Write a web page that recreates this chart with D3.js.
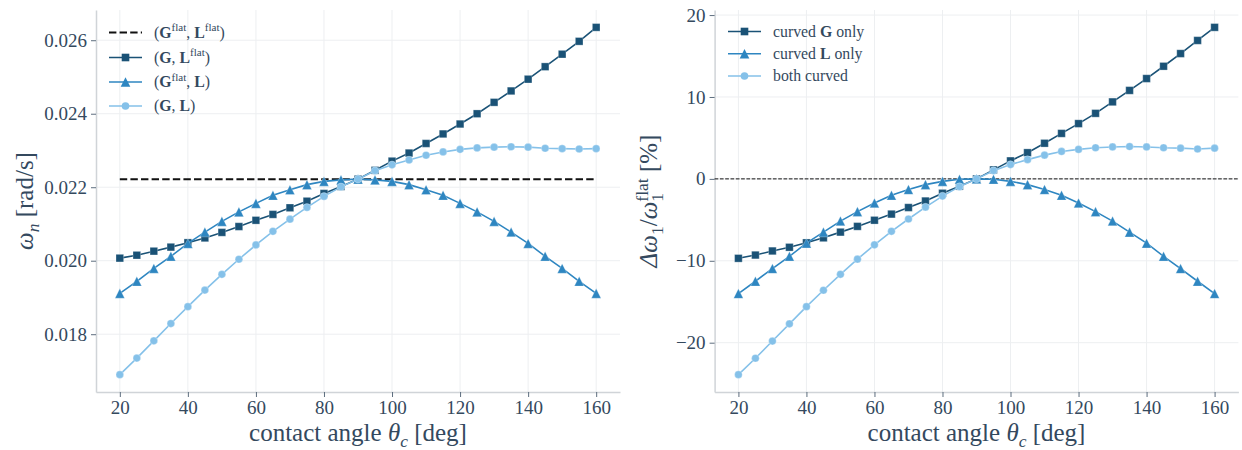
<!DOCTYPE html>
<html lang="en">
<head>
<meta charset="UTF-8">
<title>Natural frequency vs contact angle</title>
<script src="https://d3js.org/d3.v7.min.js"></script>
<style>
  body { margin: 0; background: #fff; }
  svg text { fill: #34495e; }
  .grid line { stroke: #edeff1; stroke-width: 1; }
  .axis path { stroke: #d0d4d8; stroke-width: 1.5; }
  .axis line { stroke: #5d6d7e; stroke-width: 1; }
</style>
</head>
<body>
<svg width="1242" height="450"></svg>
<script>
// contact angles (deg)
const angles = [20,25,30,35,40,45,50,55,60,65,70,75,80,85,90,95,100,105,110,115,120,125,130,135,140,145,150,155,160];

// left panel: omega_n [rad/s]
const flatAngles = [20, 160];
const omegaFlat = [0.02222, 0.02222];
const omegaG  = [0.02007,0.02015,0.02026,0.02037,0.02049,0.02062,0.02077,0.02093,0.02110,0.02126,0.02144,0.02162,0.02183,0.02202,0.02222,0.02246,0.02271,0.02293,0.02319,0.02345,0.02372,0.02400,0.02431,0.02462,0.02494,0.02528,0.02562,0.02597,0.02635];
const omegaL  = [0.01911,0.01944,0.01979,0.02012,0.02047,0.02078,0.02107,0.02133,0.02156,0.02178,0.02193,0.02207,0.02216,0.02220,0.02222,0.02220,0.02216,0.02207,0.02193,0.02178,0.02156,0.02133,0.02107,0.02078,0.02047,0.02012,0.01979,0.01944,0.01911];
const omegaGL = [0.01690,0.01735,0.01782,0.01829,0.01875,0.01920,0.01963,0.02004,0.02043,0.02080,0.02113,0.02145,0.02175,0.02201,0.02222,0.02245,0.02261,0.02274,0.02287,0.02296,0.02303,0.02307,0.02309,0.02310,0.02309,0.02306,0.02305,0.02304,0.02305];

// right panel: relative change [%]
const pctG  = [-9.7,-9.3,-8.8,-8.35,-7.8,-7.2,-6.5,-5.8,-5.05,-4.3,-3.5,-2.7,-1.75,-0.9,0,1.1,2.2,3.2,4.35,5.55,6.75,8.0,9.4,10.8,12.25,13.75,15.3,16.9,18.5];
const pctL  = [-14.0,-12.5,-10.95,-9.45,-7.85,-6.5,-5.15,-4.0,-2.95,-2.0,-1.3,-0.7,-0.3,-0.05,0,-0.05,-0.3,-0.7,-1.3,-2.0,-2.95,-4.0,-5.15,-6.5,-7.85,-9.45,-10.95,-12.5,-14.0];
const pctGL = [-23.9,-21.9,-19.8,-17.7,-15.6,-13.6,-11.65,-9.8,-8.05,-6.4,-4.9,-3.45,-2.1,-0.95,0,1.0,1.75,2.35,2.9,3.35,3.6,3.8,3.9,3.95,3.9,3.8,3.75,3.65,3.75];

// ticks
const xTicks = [20,40,60,80,100,120,140,160];
const leftYTicks = [0.018,0.020,0.022,0.024,0.026];
const rightYTicks = [-20,-10,0,10,20];

const cDark = "#1a5276", cMid = "#2e86c1", cLight = "#85c1e9";
const serif = '"Liberation Serif", "Times New Roman", serif';
const plotTop = 10, plotBottom = 392;

const svg = d3.select("svg");

// matplotlib-ish 5% padding
function padded(arrs) {
    const all = arrs.flat();
    const [lo, hi] = d3.extent(all);
    const p = (hi - lo) * 0.05;
    return [lo - p, hi + p];
}

function markerPath(kind) {
    if (kind === "square") return d3.symbol(d3.symbolSquare, 58)();
    if (kind === "circle") return d3.symbol(d3.symbolCircle, 46)();
    // upright triangle centred on its bbox like matplotlib '^'
    const s = 4.8;
    return `M0,${-s}L${s},${s}L${-s},${s}Z`;
}

function drawPanel(x0, x1, yDomain, yTicks, yFmt) {
    const x = d3.scaleLinear().domain(padded([angles])).range([x0, x1]);
    const y = d3.scaleLinear().domain(yDomain).range([plotBottom, plotTop]);
    const g = svg.append("g");

    const grid = g.append("g").attr("class", "grid");
    grid.selectAll(".gx").data(xTicks).join("line")
        .attr("x1", d => x(d)).attr("x2", d => x(d))
        .attr("y1", plotTop).attr("y2", plotBottom);
    grid.selectAll(".gy").data(yTicks).join("line")
        .attr("x1", x0).attr("x2", x1)
        .attr("y1", d => y(d)).attr("y2", d => y(d));

    const ax = g.append("g").attr("class", "axis")
        .attr("transform", `translate(0,${plotBottom})`)
        .call(d3.axisBottom(x).tickValues(xTicks).tickSizeInner(5).tickSizeOuter(0).tickPadding(4));
    const ay = g.append("g").attr("class", "axis")
        .attr("transform", `translate(${x0},0)`)
        .call(d3.axisLeft(y).tickValues(yTicks).tickFormat(yFmt).tickSizeInner(5).tickSizeOuter(0).tickPadding(4));
    [ax, ay].forEach(a => a.attr("font-family", null).attr("font-size", null)
        .selectAll("text").style("font-family", serif).style("font-size", "19px").style("fill", "#34495e"));

    return {g, x, y};
}

function drawSeries(p, xs, ys, color, kind, width, dash) {
    const line = d3.line().x((d, i) => p.x(xs[i])).y(d => p.y(d));
    p.g.append("path").datum(ys)
        .attr("d", line).attr("fill", "none")
        .attr("stroke", color).attr("stroke-width", width)
        .attr("stroke-dasharray", dash || null);
    if (!kind) return;
    p.g.append("g").selectAll("path").data(ys).join("path")
        .attr("d", markerPath(kind))
        .attr("transform", (d, i) => `translate(${p.x(xs[i])},${p.y(d)})`)
        .attr("fill", color)
        .attr("stroke", "#ffffff").attr("stroke-opacity", 0.35).attr("stroke-width", 0.8);
}

// rich text helper: parts = [{t, bold, italic, sub, sup, dx}]
function richText(sel, parts, size) {
    sel.style("font-family", serif).style("font-size", size + "px");
    let shift = 0;
    parts.forEach(pt => {
        const ts = sel.append("tspan").text(pt.t);
        let target = 0;
        if (pt.sub) target = size * 0.22;
        if (pt.sup) target = -size * 0.38;
        if (target !== shift) { ts.attr("dy", target - shift); shift = target; }
        if (pt.sub || pt.sup) ts.style("font-size", (size * 0.7) + "px");
        if (pt.bold) ts.attr("font-weight", "bold");
        if (pt.italic) ts.attr("font-style", "italic");
        if (pt.dx) ts.attr("dx", pt.dx);
    });
}

function legend(g, x0, rows) {
    const lg = g.append("g").attr("class", "legend");
    rows.forEach(r => {
        lg.append("line")
            .attr("x1", x0).attr("x2", x0 + 33).attr("y1", r.y).attr("y2", r.y)
            .attr("stroke", r.color).attr("stroke-width", r.width)
            .attr("stroke-dasharray", r.dash || null);
        if (r.kind) {
            lg.append("path").attr("d", markerPath(r.kind))
                .attr("transform", `translate(${x0 + 16.5},${r.y})`)
                .attr("fill", r.color);
        }
        const t = lg.append("text").attr("x", x0 + 45).attr("y", r.y + 5);
        richText(t, r.label, 15.8);
    });
}

// ---------- left panel ----------
const L = drawPanel(96, 620, padded([omegaG, omegaL, omegaGL]), leftYTicks, d3.format(".3f"));
drawSeries(L, flatAngles, omegaFlat, "#111", null, 2, "7.4,3.2");
drawSeries(L, angles, omegaG, cDark, "square", 1.6);
drawSeries(L, angles, omegaL, cMid, "triangle", 1.6);
drawSeries(L, angles, omegaGL, cLight, "circle", 1.6);

legend(L.g, 109, [
    {y: 32.5, color: "#111", width: 2, dash: "7.4,3.2",
     label: [{t: "("}, {t: "G", bold: true}, {t: "flat", sup: true}, {t: ", "}, {t: "L", bold: true}, {t: "flat", sup: true}, {t: ")"}]},
    {y: 57.5, color: cDark, width: 1.6, kind: "square",
     label: [{t: "("}, {t: "G", bold: true}, {t: ", "}, {t: "L", bold: true}, {t: "flat", sup: true}, {t: ")"}]},
    {y: 82, color: cMid, width: 1.6, kind: "triangle",
     label: [{t: "("}, {t: "G", bold: true}, {t: "flat", sup: true}, {t: ", "}, {t: "L", bold: true}, {t: ")"}]},
    {y: 106, color: cLight, width: 1.6, kind: "circle",
     label: [{t: "("}, {t: "G", bold: true}, {t: ", "}, {t: "L", bold: true}, {t: ")"}]}
]);

// ---------- right panel ----------
const R = drawPanel(714.6, 1238.4, padded([pctG, pctL, pctGL]), rightYTicks, d3.format("d"));
R.g.append("line")
    .attr("x1", 714.6).attr("x2", 1238.4)
    .attr("y1", R.y(0)).attr("y2", R.y(0))
    .attr("stroke", "#111").attr("stroke-width", 1).attr("stroke-dasharray", "3.7,1.6");
drawSeries(R, angles, pctG, cDark, "square", 1.6);
drawSeries(R, angles, pctL, cMid, "triangle", 1.6);
drawSeries(R, angles, pctGL, cLight, "circle", 1.6);

legend(R.g, 728, [
    {y: 31.5, color: cDark, width: 1.6, kind: "square",
     label: [{t: "curved "}, {t: "G", bold: true}, {t: " only"}]},
    {y: 53.8, color: cMid, width: 1.6, kind: "triangle",
     label: [{t: "curved "}, {t: "L", bold: true}, {t: " only"}]},
    {y: 76, color: cLight, width: 1.6, kind: "circle",
     label: [{t: "both curved"}]}
]);

// ---------- axis labels ----------
const xLab = [{t: "contact angle "}, {t: "θ", italic: true}, {t: "c", italic: true, sub: true}, {t: " [deg]"}];
[[96, 620], [714.6, 1238.4]].forEach(([a, b]) => {
    const t = svg.append("text").attr("x", (a + b) / 2).attr("y", 441)
        .attr("text-anchor", "middle");
    richText(t, xLab, 25);
});

const yl = svg.append("text").attr("transform", "translate(33,201) rotate(-90)")
    .attr("text-anchor", "middle");
richText(yl, [{t: "ω", italic: true}, {t: "n", italic: true, sub: true}, {t: " [rad/s]"}], 25);

const yr = svg.append("text").attr("transform", "translate(657,201) rotate(-90)")
    .attr("text-anchor", "middle");
richText(yr, [{t: "Δω", italic: true}, {t: "1", sub: true}, {t: "/"}, {t: "ω", italic: true},
    {t: "1", sub: true}, {t: "flat", sup: true, dx: -8.7}, {t: " [%]"}], 25);
</script>
</body>
</html>
